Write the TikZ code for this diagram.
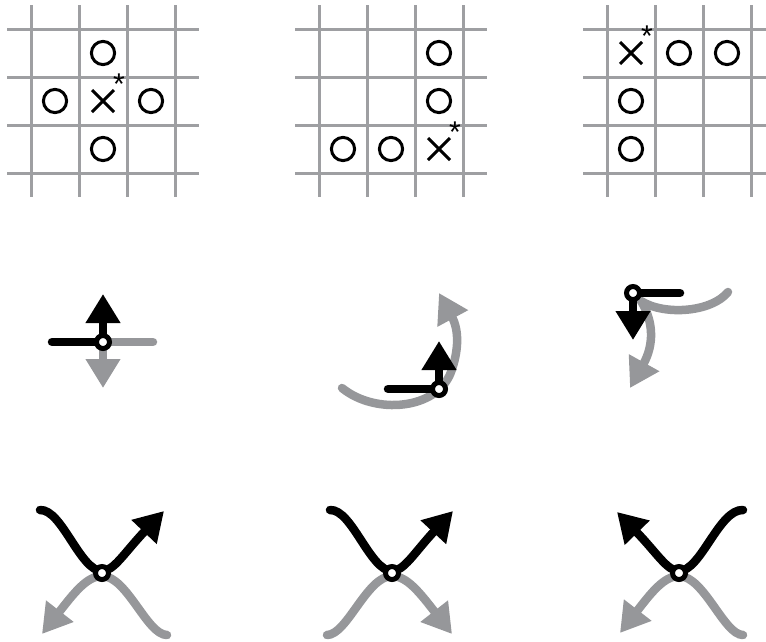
\documentclass[tikz,border=0pt]{standalone}
\usetikzlibrary{arrows.meta}
\usepackage{fontspec}
\newfontfamily\starfont{Liberation Sans}
\definecolor{gridgray}{RGB}{158,159,162}
\definecolor{figgray}{RGB}{150,151,154}
\begin{document}
\begin{tikzpicture}[x=1pt,y=-1pt,
  gridline/.style={line width=3pt, draw=gridgray},
  symline/.style={line width=3pt, draw=black},
  blk/.style={line width=8.5pt, draw=black, line cap=round},
  gry/.style={line width=8.5pt, draw=figgray, line cap=round},
  tipb/.style={-{Triangle[length=29pt,width=33pt]}},
  junc/.style={circle, draw=black, fill=white, line width=5pt, inner sep=0pt, minimum size=13pt},
  star/.style={font=\starfont\fontsize{30}{30}\selectfont, inner sep=0pt, text=black}]
\useasboundingbox (0,0) rectangle (766,641);

% ---- grids ----
\foreach \gx in {31,319,607} {
  \foreach \i in {0,...,3} {
    \draw[gridline] (\gx+\i*48,5) -- (\gx+\i*48,197);
    \draw[gridline] (\gx-24,29+\i*48) -- (\gx+168,29+\i*48);
  }
}
% O marks
\foreach \cx/\cy in {103/53,55/101,151/101,103/149,
                     439/53,439/101,343/149,391/149,
                     679/53,727/53,631/101,631/149}
  \draw[symline] (\cx,\cy) circle[radius=11.6];
% X marks
\foreach \cx/\cy in {103/101,439/149,631/53}
  \draw[symline] (\cx-11,\cy-11) -- (\cx+11,\cy+11) (\cx-11,\cy+11) -- (\cx+11,\cy-11);
\node[star] (s1) at (119,84) {*};
\node[star] (s2) at (455,132) {*};
\node[star] (s3) at (647,36) {*};

% ---- middle row ----
% figure 1
\coordinate (m1) at (103,342);
\coordinate (m1l) at (52,342);
\coordinate (m1r) at (153,342);
\coordinate (m1u) at (103,294);
\coordinate (m1d) at (103,388);
\draw[gry] (m1) -- (m1r);
\draw[gry,tipb] (m1) -- (m1d);
\draw[blk] (m1) -- (m1l);
\draw[blk,tipb] (m1) -- (m1u);
\node[junc] (J1) at (m1) {};

% figure 2
\coordinate (m2) at (439,389);
\coordinate (m2l) at (388,389);
\coordinate (m2u) at (439,341);
\coordinate (m2s) at (342,388);
\coordinate (m2t) at (439,293);
\draw[gry,tipb] (m2s) .. controls (375,415) and (437,410) .. (451,372)
  .. controls (459,350) and (459,330) .. (m2t);
\draw[blk] (m2) -- (m2l);
\draw[blk,tipb] (m2) -- (m2u);
\node[junc] (J2) at (m2) {};

% figure 3
\coordinate (m3) at (633,293);
\coordinate (m3r) at (680,293);
\coordinate (m3d) at (633,340);
\coordinate (m3s) at (728,292);
\coordinate (m3c) at (641,301);
\coordinate (m3t) at (630,388);
\draw[gry,tipb] (m3s) .. controls (712,312) and (665,316) .. (m3c)
  .. controls (654,322) and (654,345) .. (m3t);
\draw[blk] (m3) -- (m3r);
\draw[blk,tipb] (m3) -- (m3d);
\node[junc] (J3) at (m3) {};

% ---- bottom row ----
% figure 4
\begin{scope}[shift={(102,573)}]
  \coordinate (b1) at (0,0);
  \draw[gry,tipb] (65,62) .. controls (45,62) and (25,3) .. (0,3)
     .. controls (-15,3) and (-28,20) .. (-60,61);
  \draw[blk,tipb] (-62,-63) .. controls (-40,-64) and (-22,-2) .. (0,-2)
     .. controls (12,-2) and (22,-20) .. (62,-62);
  \node[junc] (B1) at (b1) {};
\end{scope}
% figure 5
\begin{scope}[shift={(392,573)}]
  \coordinate (b2) at (0,0);
  \begin{scope}[xscale=-1]
  \draw[gry,tipb] (65,62) .. controls (45,62) and (25,3) .. (0,3)
     .. controls (-15,3) and (-28,20) .. (-60,61);
  \end{scope}
  \draw[blk,tipb] (-62,-63) .. controls (-40,-64) and (-22,-2) .. (0,-2)
     .. controls (12,-2) and (22,-20) .. (61,-62);
  \node[junc] (B2) at (b2) {};
\end{scope}
% figure 6
\begin{scope}[shift={(679,573)}]
  \coordinate (b3) at (0,0);
  \draw[gry,tipb] (64,62) .. controls (45,62) and (25,3) .. (0,3)
     .. controls (-15,3) and (-28,20) .. (-59,60);
  \begin{scope}[xscale=-1]
  \draw[blk,tipb] (-64,-63) .. controls (-40,-64) and (-22,-2) .. (0,-2)
     .. controls (12,-2) and (22,-20) .. (62,-61);
  \end{scope}
  \node[junc] (B3) at (b3) {};
\end{scope}
\end{tikzpicture}
\end{document}
